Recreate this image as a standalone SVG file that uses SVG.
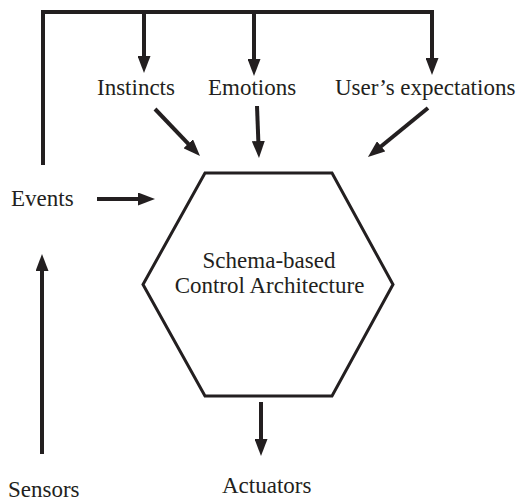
<svg xmlns="http://www.w3.org/2000/svg" width="525" height="504" viewBox="0 0 525 504">
<style>
.t{font-family:"Liberation Serif","Times New Roman",serif;font-size:23px;fill:#231f20}
.c{fill:none;stroke:#231f20;stroke-width:4}
.h{fill:#fff;stroke:#231f20;stroke-width:3}
</style>
<defs>
<marker id="ah" markerUnits="userSpaceOnUse" viewBox="0 0 17 13" refX="7" refY="6.5" markerWidth="17" markerHeight="13" orient="auto">
<path d="M0,0 L17,6.5 L0,13 z" fill="#231f20"/>
</marker>
</defs>
<g id="connectors">
<polyline class="c" points="43,165 43,12 434,12" stroke-linejoin="miter"/>
<line class="c" x1="144" y1="12" x2="144" y2="63" marker-end="url(#ah)"/>
<line class="c" x1="254" y1="12" x2="254" y2="66" marker-end="url(#ah)"/>
<line class="c" x1="432" y1="12" x2="432" y2="65" marker-end="url(#ah)"/>
<line class="c" x1="155" y1="109" x2="193.1" y2="148.8" marker-end="url(#ah)"/>
<line class="c" x1="257" y1="106" x2="258.6" y2="148" marker-end="url(#ah)"/>
<line class="c" x1="428" y1="108" x2="375.7" y2="150.7" marker-end="url(#ah)"/>
<line class="c" x1="97" y1="199" x2="145" y2="199" marker-end="url(#ah)"/>
<line class="c" x1="42" y1="454" x2="42" y2="264" marker-end="url(#ah)"/>
<line class="c" x1="261" y1="402" x2="261" y2="446" marker-end="url(#ah)"/>
</g>
<g id="instincts"><text class="t" x="97" y="95">Instincts</text></g>
<g id="emotions"><text class="t" x="208" y="95">Emotions</text></g>
<g id="expectations"><text class="t" x="335" y="95">User’s expectations</text></g>
<g id="events"><text class="t" x="11" y="206">Events</text></g>
<g id="architecture">
<polygon class="h" points="205,173 332,173 393,284.5 332,396 205,396 143,284.5"/>
<text class="t" x="269" y="268" text-anchor="middle">Schema-based</text>
<text class="t" x="269.5" y="293" text-anchor="middle">Control Architecture</text>
</g>
<g id="sensors"><text class="t" x="8" y="497">Sensors</text></g>
<g id="actuators"><text class="t" x="222" y="493">Actuators</text></g>
</svg>
